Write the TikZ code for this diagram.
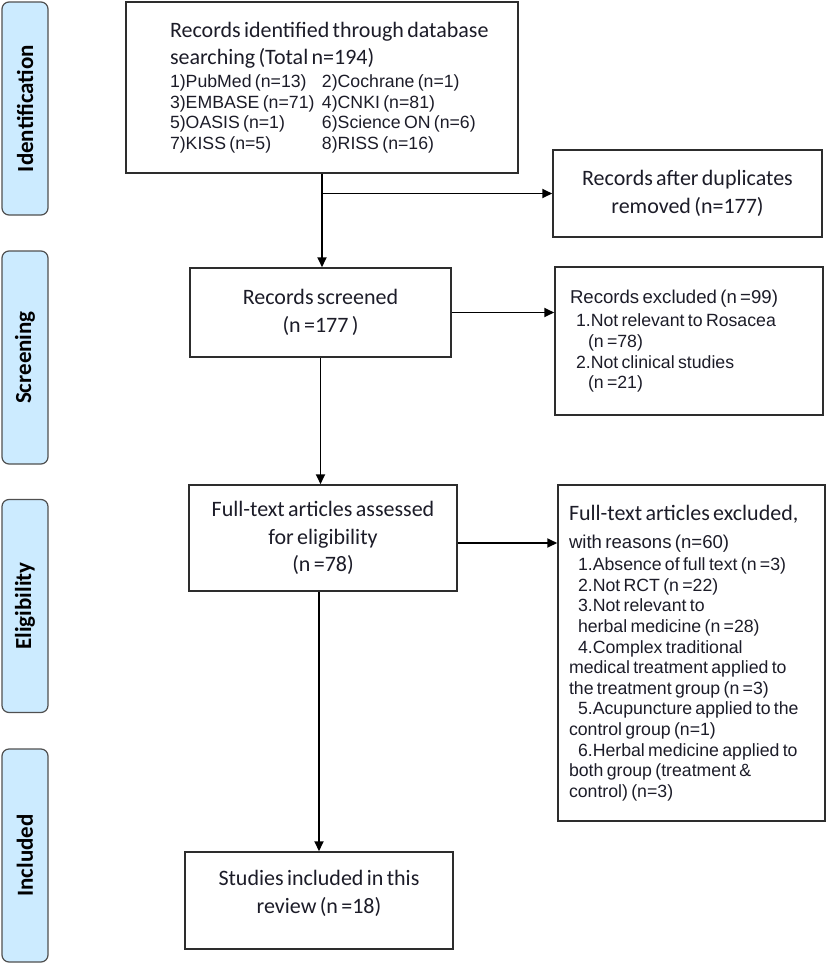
\documentclass[tikz,border=0pt]{standalone}
\usepackage{fontspec}
\setmainfont{Carlito}
\newfontfamily\listFont{Liberation Sans}
\usepackage{tikz}
\usetikzlibrary{positioning}
\usetikzlibrary{arrows.meta}
\definecolor{sideColor}{RGB}{204,235,255}
\definecolor{sideBorder}{RGB}{80,80,80}
\definecolor{boxBorder}{RGB}{45,45,45}
\definecolor{textColor}{RGB}{28,28,40}
\newcommand{\headText}{\normalfont\fontsize{22}{27.5}\selectfont}
\newcommand{\listText}{\listFont\fontsize{17.7}{20.6}\selectfont}
\newcommand{\listBig}{\listFont\fontsize{18.6}{20.6}\selectfont}

\begin{document}
\begin{tikzpicture}[x=1pt,y=-1pt]

          \tikzstyle{sideNode} = [draw=sideBorder, line width=1.2pt, fill=sideColor, rounded corners=7pt, rotate=90, minimum width=213pt, minimum height=46pt, inner sep=0pt, font=\bfseries\fontsize{23}{27}\selectfont];
          \tikzstyle{boxNode} = [draw=boxBorder, line width=1.5pt, inner sep=0pt, text=textColor];
          \tikzstyle{centerBox} = [boxNode, align=center, text width=250pt];
          \tikzstyle{listBox} = [boxNode, align=left];

          \tikzstyle{normalEdge} = [line width=1.8pt, -{Triangle[length=10pt,width=9pt]}];

          \useasboundingbox (0,0) rectangle (827,964);

          \node[sideNode] (sideIdent) at (25,108.5) {Identification};
          \node[sideNode] (sideScreen) at (25,357.5) {Screening};
          \node[sideNode] (sideElig) at (25,606) {Eligibility};
          \node[sideNode] (sideIncl) at (25,855.5) {Included};

          \node[listBox, minimum width=392pt, minimum height=171pt, text width=304pt] (records) at (322,87.5) {\headText \mbox{Records identified through database}\\searching (Total n=194)\par\vspace{2pt}\listText \makebox[152pt][l]{1)PubMed (n=13)}2)Cochrane (n=1)\\\makebox[152pt][l]{3)EMBASE (n=71)}4)CNKI (n=81)\\\makebox[152pt][l]{5)OASIS (n=1)}\mbox{6)Science ON (n=6)}\\\makebox[152pt][l]{7)KISS (n=5)}8)RISS (n=16)\par};
          \node[centerBox, minimum width=269pt, minimum height=87pt] (dup) at (687.5,193.5) {\headText Records after duplicates\\removed (n=177)\par};
          \node[centerBox, minimum width=261pt, minimum height=89pt, text width=240pt] (screened) at (320.5,312.5) {\headText Records screened\\(n =177 )\par};
          \node[listBox, minimum width=268pt, minimum height=148pt, text width=238pt] (excluded) at (689,341) {\listBig Records excluded (n =99)\par\vspace{3pt}\listText\hspace*{6pt}1.Not relevant to Rosacea\\\hspace*{18pt}(n =78)\\\hspace*{6pt}2.Not clinical studies\\\hspace*{18pt}(n =21)\par};
          \node[centerBox, minimum width=268pt, minimum height=106pt] (assessed) at (323,538) {\headText Full-text articles assessed\\for eligibility\\(n =78)\par};
          \node[listBox, minimum width=267pt, minimum height=336pt, text width=245pt] (fullExcluded) at (691.5,653) {\headText Full-text articles excluded,\par\vspace{7pt}\listBig with reasons (n=60)\par\vspace{2pt}\listText\hspace*{9pt}1.Absence of full text (n =3)\\\hspace*{9pt}2.Not RCT (n =22)\\\hspace*{9pt}3.Not relevant to\\\hspace*{9pt}herbal medicine (n =28)\\\hspace*{9pt}4.Complex traditional\\medical treatment applied to\\the treatment group (n =3)\\\hspace*{9pt}5.Acupuncture applied to the\\control group (n=1)\\\hspace*{9pt}6.Herbal medicine applied to\\both group (treatment \&\\control) (n=3)\par};
          \node[centerBox, minimum width=268pt, minimum height=97pt] (included) at (319,900.5) {\headText Studies included in this\\review (n =18)\par\vspace{14pt}};

          \coordinate (split) at (records.south |- dup.west);

          \draw[normalEdge] (records.south) -- (records.south |- screened.north);
          \draw[normalEdge] (split) -- (dup.west);
          \draw[normalEdge] (screened.east) -- (screened.east -| excluded.west);
          \draw[normalEdge] (screened.south) -- (screened.south |- assessed.north);
          \draw[normalEdge] ([yshift=-5pt]assessed.east) -- ([yshift=-5pt]assessed.east -| fullExcluded.west);
          \draw[normalEdge] (included.north |- assessed.south) -- (included.north);
        \end{tikzpicture}
\end{document}
